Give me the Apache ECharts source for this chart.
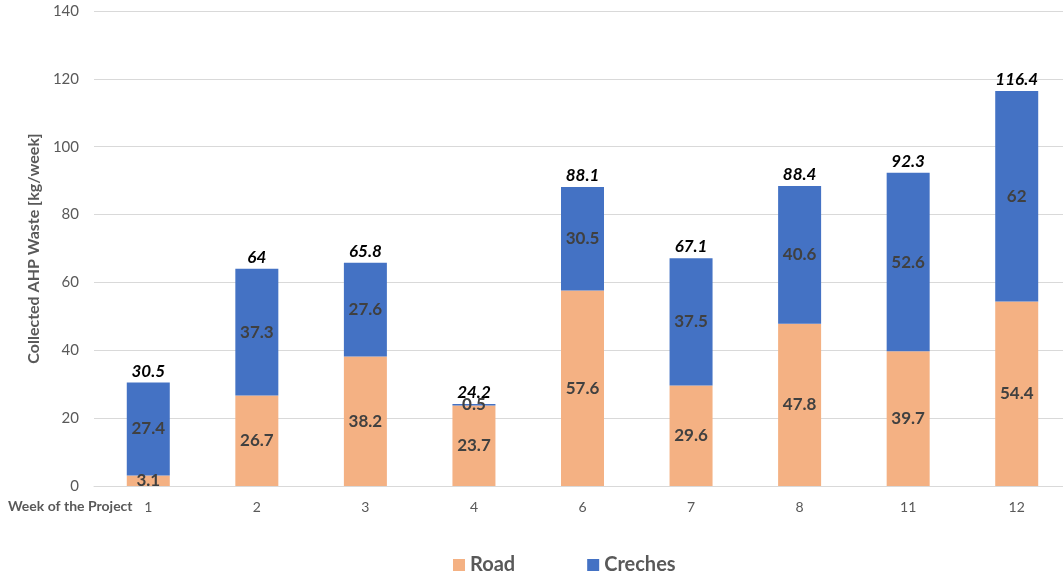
<!DOCTYPE html>
<html>
<head>
<meta charset="utf-8">
<script src="https://cdn.jsdelivr.net/npm/echarts@6/dist/echarts.min.js"></script>
<style>html,body{margin:0;padding:0;background:#fff}#c{width:1063px;height:577px}</style>
</head>
<body>
<div id="c"></div>
<script>
var weeks = ['1','2','3','4','6','7','8','11','12'];
var road = [3.1, 26.7, 38.2, 23.7, 57.6, 29.6, 47.8, 39.7, 54.4];
var creches = [27.4, 37.3, 27.6, 0.5, 30.5, 37.5, 40.6, 52.6, 62];
var totals = [30.5, 64, 65.8, 24.2, 88.1, 67.1, 88.4, 92.3, 116.4];
var yTicks = [0, 20, 40, 60, 80, 100, 120, 140];

var FONT = 'Lato, "Open Sans", sans-serif';
var chart = echarts.init(document.getElementById('c'));
var segLabel = {
  show: true, position: 'inside', color: '#404040', fontWeight: 'bold',
  fontSize: 17, fontFamily: FONT
};
chart.setOption({
  animation: false,
  textStyle: { fontFamily: FONT },
  grid: { left: 94, top: 11, width: 977, height: 475, containLabel: false, outerBoundsMode: 'none' },
  legend: {
    data: ['Road', 'Creches'], bottom: -3, left: 448, itemGap: 72,
    icon: 'rect', itemWidth: 12, itemHeight: 12,
    textStyle: { color: '#595959', fontSize: 20, fontWeight: 'bold', fontFamily: FONT }
  },
  xAxis: {
    type: 'category', data: weeks,
    axisLine: { show: true, lineStyle: { color: '#d9d9d9' } },
    axisTick: { show: false },
    axisLabel: { color: '#595959', fontSize: 14, margin: 14, fontFamily: FONT }
  },
  yAxis: {
    type: 'value', min: 0, max: 140, interval: 20,
    name: 'Collected AHP Waste [kg/week]', nameLocation: 'middle', nameGap: 46,
    nameTextStyle: { color: '#595959', fontSize: 16, fontWeight: 'bold', fontFamily: FONT },
    axisLine: { show: false }, axisTick: { show: false },
    splitLine: { lineStyle: { color: '#d9d9d9' } },
    axisLabel: { color: '#595959', fontSize: 15, margin: 15, fontFamily: FONT,
      formatter: function (v) { return yTicks.indexOf(v) >= 0 ? String(v) : ''; } }
  },
  graphic: [{
    type: 'text', left: 8, top: 499,
    style: { text: 'Week of the Project', fill: '#595959', font: 'bold 14px ' + FONT }
  }],
  series: [
    { name: 'Road', type: 'bar', stack: 'w', data: road, barWidth: 43,
      itemStyle: { color: '#F4B183' }, label: segLabel },
    { name: 'Creches', type: 'bar', stack: 'w', data: creches, barWidth: 43,
      itemStyle: { color: '#4472C4' }, label: segLabel },
    { name: 'Total', type: 'bar', stack: 'w', data: totals.map(function () { return 0; }),
      barWidth: 43, itemStyle: { color: 'transparent' },
      label: { show: true, position: 'top', distance: 3, color: '#000',
        fontWeight: 'bold', fontStyle: 'italic', fontSize: 17, fontFamily: FONT,
        formatter: function (p) { return String(totals[p.dataIndex]); } } }
  ]
});
</script>
</body>
</html>
